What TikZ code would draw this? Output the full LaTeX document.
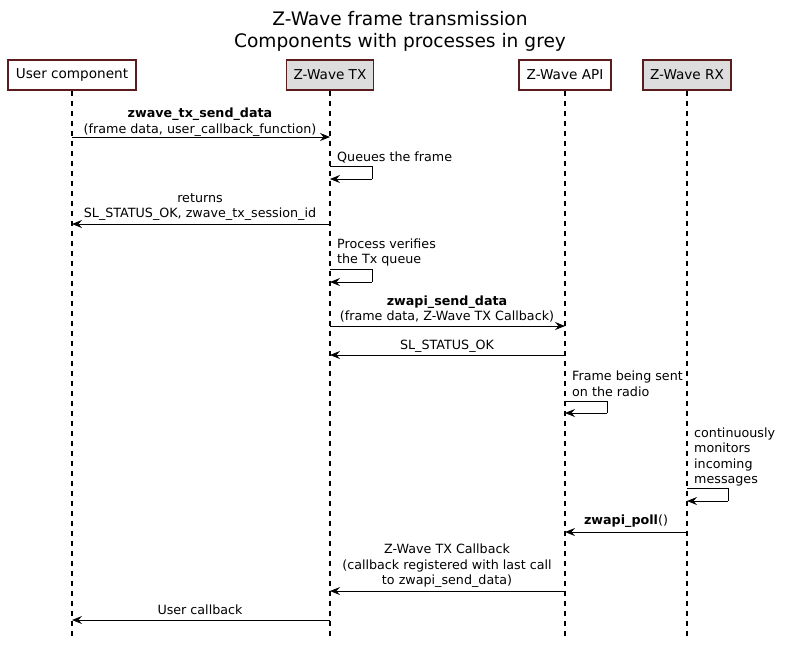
\documentclass[tikz,border=0pt]{standalone}
\usepackage{fontspec}
\setmainfont{DejaVu Sans}
\usetikzlibrary{arrows.meta}
\definecolor{boxborder}{RGB}{90,28,28}
\definecolor{boxgrey}{RGB}{221,221,221}
\begin{document}
\begin{tikzpicture}[x=1pt,y=-1pt,
  part/.style={draw=boxborder, line width=1.3pt, minimum height=30pt, inner sep=0pt, font=\fontsize{13.6}{16}\selectfont},
  life/.style={line width=1.6pt, dash pattern=on 5pt off 5pt},
  msg/.style={line width=0.9pt, -{Stealth[length=10pt,width=8pt,inset=3.5pt]}},
  lbl/.style={font=\fontsize{12.7}{15.5}\selectfont, align=center, inner sep=0pt},
  lbll/.style={font=\fontsize{12.7}{15.5}\selectfont, align=left, inner sep=0pt, anchor=west},
]
\useasboundingbox (0,0) rectangle (786,649);
\fill[white] (0,0) rectangle (786,649);
% title
\node[font=\fontsize{18.6}{22}\selectfont, align=center, inner sep=0pt] (title) at (400,31) {Z-Wave frame transmission\\Components with processes in grey};
% participants
\node[part, minimum width=128pt] (user) at (72,75) {User component};
\node[part, minimum width=87pt, fill=boxgrey] (tx) at (330,75) {Z-Wave TX};
\node[part, minimum width=92pt] (api) at (565,75) {Z-Wave API};
\node[part, minimum width=88pt, fill=boxgrey] (rx) at (687,75) {Z-Wave RX};
% lifeline ends
\coordinate (userE) at (72,636);
\coordinate (txE) at (330,636);
\coordinate (apiE) at (565,636);
\coordinate (rxE) at (687,636);
\draw[life] (user.south) -- (userE);
\draw[life] (tx.south) -- (txE);
\draw[life] (api.south) -- (apiE);
\draw[life] (rx.south) -- (rxE);
% message 1
\coordinate (u1) at (72,137); \coordinate (t1) at (330,137);
\draw[msg] (u1) -- (t1);
\node[lbl] (l1) at (200,122) {\textbf{zwave\_tx\_send\_data}\\(frame data, user\_callback\_function)};
% self 1
\coordinate (s1a) at (330,166); \coordinate (s1b) at (372,166);
\coordinate (s1c) at (372,179); \coordinate (s1d) at (330,179);
\draw[line width=0.9pt] (s1a) -- (s1b) -- (s1c);
\draw[msg] (s1c) -- (s1d);
\node[lbll] (l2) at (337,157) {Queues the frame};
% message 3
\coordinate (t3) at (330,224); \coordinate (u3) at (72,224);
\draw[msg] (t3) -- (u3);
\node[lbl] (l3) at (200,207) {returns\\SL\_STATUS\_OK, zwave\_tx\_session\_id};
% self 2
\coordinate (s2a) at (330,269); \coordinate (s2b) at (372,269);
\coordinate (s2c) at (372,282); \coordinate (s2d) at (330,282);
\draw[line width=0.9pt] (s2a) -- (s2b) -- (s2c);
\draw[msg] (s2c) -- (s2d);
\node[lbll] (l4) at (337,252.5) {Process verifies\\the Tx queue};
% message 5
\coordinate (t5) at (330,326); \coordinate (a5) at (565,326);
\draw[msg] (t5) -- (a5);
\node[lbl] (l5) at (447,309) {\textbf{zwapi\_send\_data}\\(frame data, Z-Wave TX Callback)};
% message 6
\coordinate (a6) at (565,355); \coordinate (t6) at (330,355);
\draw[msg] (a6) -- (t6);
\node[lbl] (l6) at (447,346) {SL\_STATUS\_OK};
% self 3
\coordinate (s3a) at (565,401); \coordinate (s3b) at (607,401);
\coordinate (s3c) at (607,413); \coordinate (s3d) at (565,413);
\draw[line width=0.9pt] (s3a) -- (s3b) -- (s3c);
\draw[msg] (s3c) -- (s3d);
\node[lbll] (l7) at (572,384) {Frame being sent\\on the radio};
% self 4
\coordinate (s4a) at (687,488); \coordinate (s4b) at (728,488);
\coordinate (s4c) at (728,501); \coordinate (s4d) at (687,501);
\draw[line width=0.9pt] (s4a) -- (s4b) -- (s4c);
\draw[msg] (s4c) -- (s4d);
\node[lbll] (l8) at (694,457) {continuously\\monitors\\incoming\\messages};
% message 9
\coordinate (r9) at (687,532); \coordinate (a9) at (565,532);
\draw[msg] (r9) -- (a9);
\node[lbl] (l9) at (626,521) {\textbf{zwapi\_poll}()};
% message 10
\coordinate (a10) at (565,591); \coordinate (t10) at (330,591);
\draw[msg] (a10) -- (t10);
\node[lbl] (l10) at (447,566) {Z-Wave TX Callback\\(callback registered with last call\\to zwapi\_send\_data)};
% message 11
\coordinate (t11) at (330,620); \coordinate (u11) at (72,620);
\draw[msg] (t11) -- (u11);
\node[lbl] (l11) at (200,610) {User callback};
\end{tikzpicture}
\end{document}
